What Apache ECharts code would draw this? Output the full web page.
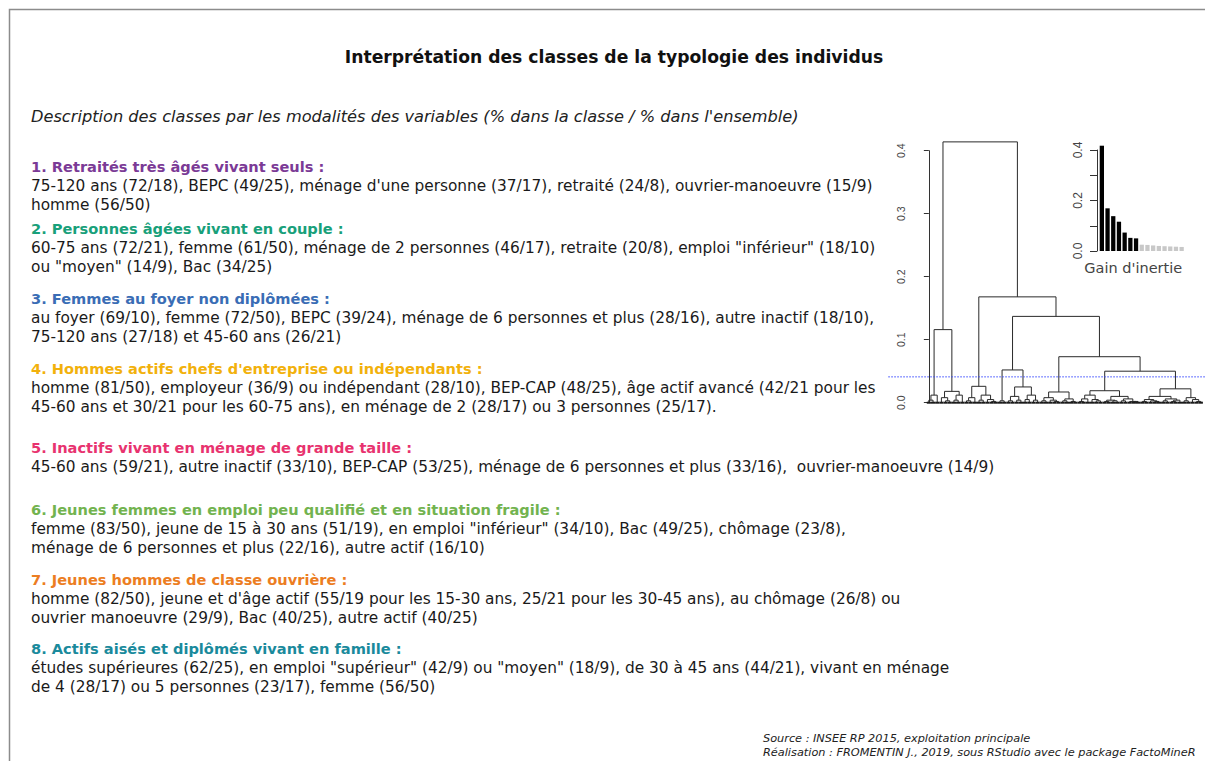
<!DOCTYPE html>
<html>
<head>
<meta charset="utf-8">
<script src="https://cdn.jsdelivr.net/npm/echarts@6/dist/echarts.min.js"></script>
<style>
    html, body { margin: 0; padding: 0; background: #fff; }
    #chart { width: 1205px; height: 761px; }
</style>
</head>
<body>
<div id="chart"></div>
<script>
// ---- texts ----
const title = "Interprétation des classes de la typologie des individus";
const subtitle = "Description des classes par les modalités des variables (% dans la classe / % dans l'ensemble)";
const classTitles = [
    "1. Retraités très âgés vivant seuls :",
    "2. Personnes âgées vivant en couple :",
    "3. Femmes au foyer non diplômées :",
    "4. Hommes actifs chefs d'entreprise ou indépendants :",
    "5. Inactifs vivant en ménage de grande taille :",
    "6. Jeunes femmes en emploi peu qualifié et en situation fragile :",
    "7. Jeunes hommes de classe ouvrière :",
    "8. Actifs aisés et diplômés vivant en famille :"
];
const classColors = ["#7b3a96", "#18a07a", "#3a6db5", "#f2b10c", "#e8336f", "#72b34f", "#ec7d22", "#1a8a9c"];
const classLines = [
    ["75-120 ans (72/18), BEPC (49/25), ménage d'une personne (37/17), retraité (24/8), ouvrier-manoeuvre (15/9)",
     "homme (56/50)"],
    ["60-75 ans (72/21), femme (61/50), ménage de 2 personnes (46/17), retraite (20/8), emploi \"inférieur\" (18/10)",
     "ou \"moyen\" (14/9), Bac (34/25)"],
    ["au foyer (69/10), femme (72/50), BEPC (39/24), ménage de 6 personnes et plus (28/16), autre inactif (18/10),",
     "75-120 ans (27/18) et 45-60 ans (26/21)"],
    ["homme (81/50), employeur (36/9) ou indépendant (28/10), BEP-CAP (48/25), âge actif avancé (42/21 pour les",
     "45-60 ans et 30/21 pour les 60-75 ans), en ménage de 2 (28/17) ou 3 personnes (25/17)."],
    ["45-60 ans (59/21), autre inactif (33/10), BEP-CAP (53/25), ménage de 6 personnes et plus (33/16),  ouvrier-manoeuvre (14/9)"],
    ["femme (83/50), jeune de 15 à 30 ans (51/19), en emploi \"inférieur\" (34/10), Bac (49/25), chômage (23/8),",
     "ménage de 6 personnes et plus (22/16), autre actif (16/10)"],
    ["homme (82/50), jeune et d'âge actif (55/19 pour les 15-30 ans, 25/21 pour les 30-45 ans), au chômage (26/8) ou",
     "ouvrier manoeuvre (29/9), Bac (40/25), autre actif (40/25)"],
    ["études supérieures (62/25), en emploi \"supérieur\" (42/9) ou \"moyen\" (18/9), de 30 à 45 ans (44/21), vivant en ménage",
     "de 4 (28/17) ou 5 personnes (23/17), femme (56/50)"]
];
const sourceLines = [
    "Source : INSEE RP 2015, exploitation principale",
    "Réalisation : FROMENTIN J., 2019, sous RStudio avec le package FactoMineR"
];

// ---- dendrogram: node = [height, left, right], leaf = 0 ----
const class1 = [0.012, [0.004, 0, 0], 0];
const class2 = [0.018, [0.008, 0, [0.003, 0, 0]], [0.012, [0.004, 0, 0], 0]];
const class3 = [0.026, [0.008, [0.003, 0, 0], 0], [0.012, [0.004, 0, 0], [0.005, 0, [0.002, 0, 0]]]];
const class4 = [0.003, 0, 0];
const class5 = [0.025, [0.010, [0.003, 0, 0], [0.004, 0, 0]], [0.012, [0.005, 0, 0], [0.004, 0, 0]]];
const class6 = [0.017, [0.008, [0.003, 0, 0], [0.004, 0, [0.002, 0, 0]]], [0.006, [0.003, 0, 0], [0.002, 0, 0]]];
const class7 = [0.019, [0.012, [0.006, [0.002, 0, 0], 0], [0.005, 0, [0.003, 0, 0]]],
                       [0.010, [0.004, [0.002, 0, 0], [0.003, 0, 0]], [0.006, [0.003, 0, 0], [0.002, 0, [0.002, 0, 0]]]]];
const class8 = [0.022, [0.010, [0.005, [0.002, 0, 0], [0.003, 0, [0.002, 0, 0]]], [0.006, [0.003, 0, 0], [0.004, [0.002, 0, 0], 0]]],
                       [0.008, [0.003, 0, 0], [0.005, 0, [0.002, 0, 0]]]];
const upperTree = [0.414,
    [0.116, class1, class2],
    [0.168, class3, [0.137, [0.052, class4, class5], [0.073, class6, [0.050, class7, class8]]]]];
const cutHeight = 0.041;

// ---- inset: gain d'inertie ----
const inertiaGain = [0.417, 0.169, 0.138, 0.116, 0.073, 0.052, 0.050, 0.025, 0.024, 0.022, 0.020, 0.019, 0.018, 0.017, 0.016];
const nbClasses = 8;
const dendroTicks = [0, 0.4, 0.1];

// layout of tree -> segments [xLeft, xRight, hLeft, hRight, h]
const segments = [];
const leaves = [];
let leafIdx = 0;
function layout(node) {
    if (node === 0) {
        leaves.push([leafIdx, 0]);
        return { x: leafIdx++, h: 0 };
    }
    const l = layout(node[1]);
    const r = layout(node[2]);
    segments.push([l.x, r.x, l.h, r.h, node[0]]);
    return { x: (l.x + r.x) / 2, h: node[0] };
}
layout(upperTree);
const nLeaves = leafIdx;

const FONT = '"DejaVu Sans", Verdana, sans-serif';
const lineH = 19.5;
const blockTop = [166, 228, 298, 368, 447, 509, 579, 648];

const graphics = [
    { type: 'rect', shape: { x: 9.5, y: 9.5, width: 1300, height: 900 },
      style: { fill: null, stroke: '#8c8c8c', lineWidth: 1.5 }, silent: true },
    { type: 'text', x: 614, y: 57,
      style: { text: title, font: 'bold 17.2px ' + FONT, fill: '#111', align: 'center', verticalAlign: 'middle' } },
    { type: 'text', x: 31, y: 116,
      style: { text: subtitle, font: 'italic 16.2px ' + FONT, fill: '#222', verticalAlign: 'middle' } }
];
classTitles.forEach((t, i) => {
    graphics.push({ type: 'text', x: 31, y: blockTop[i],
        style: { text: t, font: 'bold 14.6px ' + FONT, fill: classColors[i], verticalAlign: 'middle' } });
    classLines[i].forEach((line, j) => {
        graphics.push({ type: 'text', x: 31, y: blockTop[i] + lineH * (j + 1),
            style: { text: line, font: '15.35px ' + FONT, fill: '#1a1a1a', verticalAlign: 'middle' } });
    });
});
sourceLines.forEach((line, j) => {
    graphics.push({ type: 'text', x: 763, y: 738 + 14 * j,
        style: { text: line, font: 'italic 11.3px ' + FONT, fill: '#222', verticalAlign: 'middle' } });
});

const chart = echarts.init(document.getElementById('chart'), null, { renderer: 'svg' });
chart.setOption({
    backgroundColor: '#fff',
    animation: false,
    graphic: graphics,
    grid: [
        { left: 916.3, top: 150.7, right: -2.5, bottom: 358.3 },
        { left: 1099, top: 150, width: 85.5, height: 101 }
    ],
    xAxis: [
        { gridIndex: 0, type: 'value', min: -3, max: nLeaves, show: false },
        { gridIndex: 1, type: 'category', data: inertiaGain.map((v, i) => i + 1),
          axisLine: { show: false }, axisTick: { show: false }, axisLabel: { show: false },
          name: "Gain d'inertie", nameLocation: 'middle', nameGap: 9,
          nameTextStyle: { fontSize: 14.5, color: '#444', fontFamily: FONT, padding: [0, 17, 0, 0] } }
    ],
    yAxis: [
        { gridIndex: 0, type: 'value', min: dendroTicks[0], max: dendroTicks[1], interval: dendroTicks[2],
          splitLine: { show: false },
          axisLine: { show: true, lineStyle: { color: '#333', width: 1 } },
          axisTick: { show: true, inside: false, length: 5, lineStyle: { color: '#333' } },
          axisLabel: { rotate: 90, fontSize: 10.5, color: '#444', margin: 10, fontFamily: 'Liberation Sans, Arial',
                       formatter: v => v.toFixed(1) } },
        { gridIndex: 1, type: 'value', min: 0, max: 0.4, interval: 0.1, offset: 2,
          splitLine: { show: false },
          axisLine: { show: true, lineStyle: { color: '#333', width: 1 } },
          axisTick: { show: true, inside: false, length: 7, lineStyle: { color: '#333' } },
          axisLabel: { rotate: 90, fontSize: 12, color: '#444', margin: 13, fontFamily: 'Liberation Sans, Arial',
                       formatter: v => (Math.round(v * 10) % 2 === 0 ? v.toFixed(1) : '') } }
    ],
    series: [
        {
            type: 'custom', xAxisIndex: 0, yAxisIndex: 0, clip: false,
            data: segments,
            encode: { x: [0, 1], y: [2, 3, 4] },
            renderItem: (params, api) => {
                const a = api.coord([api.value(0), api.value(2)]);
                const b = api.coord([api.value(0), api.value(4)]);
                const c = api.coord([api.value(1), api.value(4)]);
                const d = api.coord([api.value(1), api.value(3)]);
                return { type: 'polyline', shape: { points: [a, b, c, d] },
                         style: { stroke: '#2a2a2a', fill: null, lineWidth: 1 } };
            }
        },
        {
            // individuals merged at ~0 inside each leaf: drawn as a thick base
            type: 'custom', xAxisIndex: 0, yAxisIndex: 0, clip: false,
            data: leaves,
            encode: { x: 0, y: 1 },
            renderItem: (params, api) => {
                const p = api.coord([api.value(0) - 0.5, api.value(1)]);
                const q = api.coord([api.value(0) + 0.5, api.value(1)]);
                return { type: 'line', shape: { x1: p[0], y1: p[1], x2: q[0], y2: q[1] },
                         style: { stroke: '#1a1a1a', lineWidth: 2 } };
            }
        },
        {
            type: 'custom', xAxisIndex: 0, yAxisIndex: 0, clip: false,
            data: [[0, cutHeight]],
            encode: { x: 0, y: 1 },
            renderItem: (params, api) => {
                const y = api.coord([0, api.value(1)])[1];
                const cs = params.coordSys;
                return { type: 'line', shape: { x1: cs.x - 28, y1: y, x2: cs.x + cs.width + 10, y2: y },
                         style: { stroke: '#3344ff', lineWidth: 1, lineDash: [1.5, 1.5] } };
            }
        },
        {
            type: 'bar', xAxisIndex: 1, yAxisIndex: 1, clip: false,
            barCategoryGap: '25%',
            data: inertiaGain,
            itemStyle: { color: p => (p.dataIndex < nbClasses - 1 ? '#000' : '#c8c8c8') }
        }
    ]
});
</script>
</body>
</html>
